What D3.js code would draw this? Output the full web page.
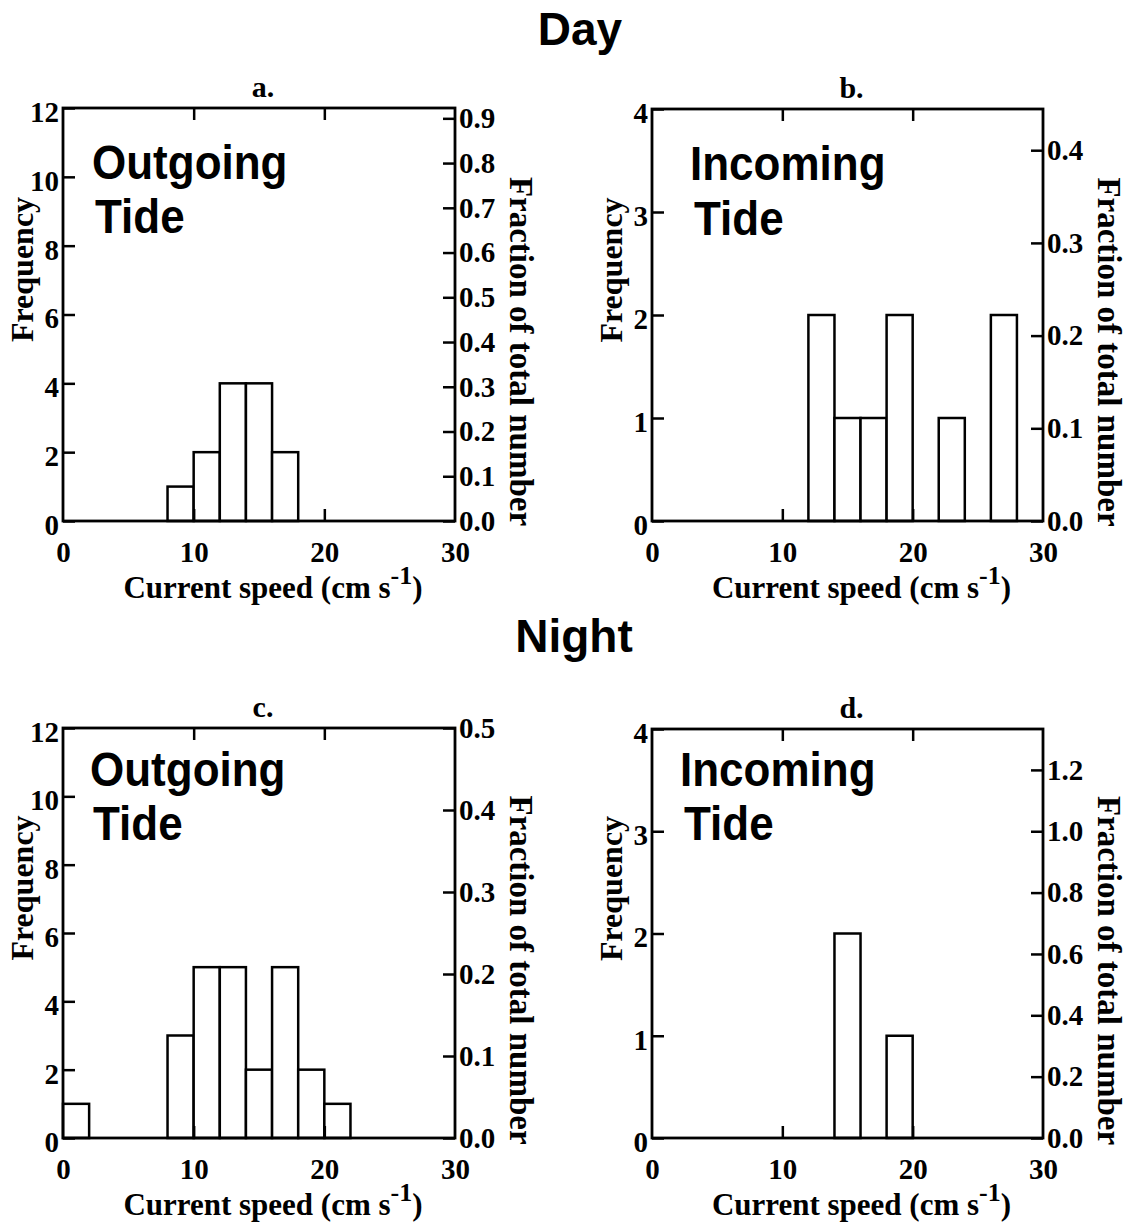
<!DOCTYPE html>
<html>
<head>
<meta charset="utf-8">
<script src="https://cdn.jsdelivr.net/npm/d3@7"></script>
<style>
  html, body { margin: 0; padding: 0; background: #fff; }
  svg { display: block; }
</style>
</head>
<body>
<svg id="chart" width="1135" height="1229"></svg>
<script>
// ---------------- data ----------------
const binStarts = [0, 2, 4, 6, 8, 10, 12, 14, 16, 18, 20, 22, 24, 26, 28];
const binWidth = 2;
const countsA = [0, 0, 0, 0, 1, 2, 4, 4, 2, 0, 0, 0, 0, 0, 0];
const countsB = [0, 0, 0, 0, 0, 0, 2, 1, 1, 2, 0, 1, 0, 2, 0];
const countsC = [1, 0, 0, 0, 3, 5, 5, 2, 5, 2, 1, 0, 0, 0, 0];
const countsD = [0, 0, 0, 0, 0, 0, 0, 2, 0, 1, 0, 0, 0, 0, 0];
const xTickValues = [0, 10, 20, 30];
const freqTicksOut = [0, 2, 4, 6, 8, 10, 12];
const freqTicksIn = [0, 1, 2, 3, 4];
const fracTicksA = [0, 0.1, 0.2, 0.3, 0.4, 0.5, 0.6, 0.7, 0.8, 0.9];
const fracTicksB = [0, 0.1, 0.2, 0.3, 0.4];
const fracTicksC = [0, 0.1, 0.2, 0.3, 0.4, 0.5];
const fracTicksD = [0, 0.2, 0.4, 0.6, 0.8, 1.0, 1.2];
const panelLetters = ["a.", "b.", "c.", "d."];
const tideLabels = [["Outgoing", "Tide"], ["Incoming", "Tide"], ["Outgoing", "Tide"], ["Incoming", "Tide"]];
const sectionTitles = ["Day", "Night"];
const xTitle = "Current speed (cm s";
const xTitleSup = "-1";
const yTitleLeft = "Frequency";
const yTitleRight = "Fraction of total number";

// ---------------- layout ----------------
const layout = [
  { counts: countsA, yMax: 12, fTicks: freqTicksOut, rTicks: fracTicksA, x0: 63, x1: 455, y0: 108, y1: 521, tx: 92, tx2: 95, tb1: 179, tb2: 233 },
  { counts: countsB, yMax: 4, fTicks: freqTicksIn, rTicks: fracTicksB, x0: 652, x1: 1043, y0: 109, y1: 521, tx: 690, tx2: 694, tb1: 180, tb2: 235 },
  { counts: countsC, yMax: 12, fTicks: freqTicksOut, rTicks: fracTicksC, x0: 63, x1: 455, y0: 728, y1: 1138, tx: 90, tx2: 93, tb1: 786, tb2: 840 },
  { counts: countsD, yMax: 4, fTicks: freqTicksIn, rTicks: fracTicksD, x0: 652, x1: 1043, y0: 729, y1: 1138, tx: 680, tx2: 684, tb1: 786, tb2: 840 }
];

const serif = "'Liberation Serif', 'Times New Roman', serif";
const sans = "'Liberation Sans', Arial, Helvetica, sans-serif";
const svg = d3.select("#chart");
svg.append("rect").attr("width", 1135).attr("height", 1229).attr("fill", "#fff");

// section titles
svg.append("text").attr("x", 580).attr("y", 45).attr("text-anchor", "middle")
  .attr("font-family", sans).attr("font-weight", "bold").attr("font-size", 46)
  .text(sectionTitles[0]);
svg.append("text").attr("x", 574).attr("y", 652).attr("text-anchor", "middle")
  .attr("font-family", sans).attr("font-weight", "bold").attr("font-size", 46)
  .text(sectionTitles[1]);

layout.forEach((p, i) => {
  const g = svg.append("g");
  const total = d3.sum(p.counts);
  const x = d3.scaleLinear().domain([0, 30]).range([p.x0, p.x1]);
  const y = d3.scaleLinear().domain([0, p.yMax]).range([p.y1, p.y0]);
  const yR = d3.scaleLinear().domain([0, p.yMax / total]).range([p.y1, p.y0]);
  const bins = binStarts.map((s, k) => ({ s: s, c: p.counts[k] })).filter(d => d.c > 0);

  // bars
  g.append("g").selectAll("rect").data(bins).join("rect")
    .attr("x", d => x(d.s))
    .attr("y", d => y(d.c))
    .attr("width", d => x(d.s + binWidth) - x(d.s))
    .attr("height", d => p.y1 - y(d.c))
    .attr("fill", "#fff").attr("stroke", "#000").attr("stroke-width", 2.5);

  // frame
  g.append("rect").attr("x", p.x0).attr("y", p.y0)
    .attr("width", p.x1 - p.x0).attr("height", p.y1 - p.y0)
    .attr("fill", "none").attr("stroke", "#000").attr("stroke-width", 2.8);

  const styleAxis = (sel) => {
    sel.select(".domain").remove();
    sel.selectAll("line").attr("stroke", "#000").attr("stroke-width", 2.5);
    sel.selectAll("text").attr("font-family", serif).attr("font-weight", "bold")
      .attr("font-size", 29).attr("fill", "#000");
  };

  // left frequency axis
  g.append("g").attr("transform", `translate(${p.x0},0)`)
    .call(d3.axisLeft(y).tickValues(p.fTicks).tickSizeInner(-12).tickSizeOuter(0).tickPadding(4).tickFormat(d3.format("d")))
    .call(styleAxis)
    .call(s => s.selectAll("text").attr("dy", "0.46em"));

  // right fraction axis
  g.append("g").attr("transform", `translate(${p.x1},0)`)
    .call(d3.axisRight(yR).tickValues(p.rTicks).tickSizeInner(-12).tickSizeOuter(0).tickPadding(4).tickFormat(d3.format(".1f")))
    .call(styleAxis)
    .call(s => s.selectAll("text").attr("dy", "0.32em"));

  // bottom labels
  g.append("g").attr("transform", `translate(0,${p.y1})`)
    .call(d3.axisBottom(x).tickValues(xTickValues).tickSize(0).tickPadding(20).tickFormat(d3.format("d")))
    .call(styleAxis);
  // bottom inner ticks
  g.append("g").attr("transform", `translate(0,${p.y1})`)
    .call(d3.axisBottom(x).tickValues(xTickValues.slice(1, 3)).tickSizeInner(-12).tickSizeOuter(0).tickFormat(""))
    .call(styleAxis);
  // top inner ticks
  g.append("g").attr("transform", `translate(0,${p.y0})`)
    .call(d3.axisTop(x).tickValues(xTickValues.slice(1, 3)).tickSizeInner(-12).tickSizeOuter(0).tickFormat(""))
    .call(styleAxis);

  const cx = (p.x0 + p.x1) / 2;
  const cy = (p.y0 + p.y1) / 2;

  // panel letter
  g.append("text").attr("x", cx + 4).attr("y", p.y0 - 11).attr("text-anchor", "middle")
    .attr("font-family", serif).attr("font-weight", "bold").attr("font-size", 30)
    .text(panelLetters[i]);

  // x-axis title with superscript
  const xt = g.append("text").attr("x", cx + 14).attr("y", p.y1 + 77).attr("text-anchor", "middle")
    .attr("font-family", serif).attr("font-weight", "bold").attr("font-size", 31);
  xt.append("tspan").text(xTitle);
  xt.append("tspan").attr("font-size", 26).attr("dy", -14).text(xTitleSup);
  xt.append("tspan").attr("dy", 14).text(")");

  // left y title
  g.append("text").attr("transform", `translate(${p.x0 - 30},${cy - 45}) rotate(-90)`)
    .attr("text-anchor", "middle")
    .attr("font-family", serif).attr("font-weight", "bold").attr("font-size", 32)
    .text(yTitleLeft);

  // right y title
  g.append("text").attr("transform", `translate(${p.x1 + 55},${cy + 37}) rotate(90)`)
    .attr("text-anchor", "middle")
    .attr("font-family", serif).attr("font-weight", "bold").attr("font-size", 33)
    .text(yTitleRight);

  // tide labels
  g.append("text").attr("transform", `translate(${p.tx},${p.tb1}) scale(1,1.1)`)
    .attr("font-family", sans).attr("font-weight", "bold").attr("font-size", 44)
    .text(tideLabels[i][0]);
  g.append("text").attr("transform", `translate(${p.tx2},${p.tb2}) scale(1,1.1)`)
    .attr("font-family", sans).attr("font-weight", "bold").attr("font-size", 44)
    .text(tideLabels[i][1]);
});
</script>
</body>
</html>
